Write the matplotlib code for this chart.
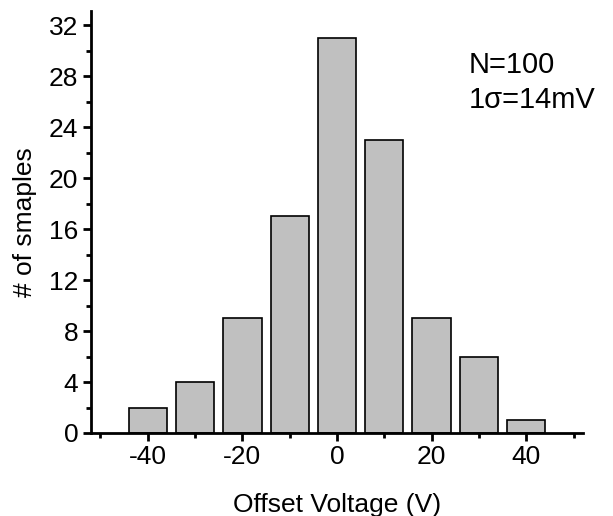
import matplotlib
matplotlib.use("Agg")
import matplotlib.pyplot as plt
from matplotlib.ticker import MultipleLocator

plt.rcParams['font.family'] = ['Liberation Sans', 'DejaVu Sans']
plt.rcParams['axes.unicode_minus'] = False

centers = [-40, -30, -20, -10, 0, 10, 20, 30, 40]
counts = [2, 4, 9, 17, 31, 23, 9, 6, 1]

W, H = 613, 516
fig = plt.figure(figsize=(W/100, H/100), dpi=100)
ax = fig.add_axes([91/W, 1-433/H, (583-91)/W, (433-11)/H])

ax.bar(centers, counts, width=8.1, color='#c0c0c0', edgecolor='black', linewidth=1.2)

ax.set_xlim(-52, 52)
ax.set_ylim(0, 33.1)
ax.xaxis.set_major_locator(MultipleLocator(20))
ax.xaxis.set_minor_locator(MultipleLocator(10))
ax.yaxis.set_major_locator(MultipleLocator(4))
ax.yaxis.set_minor_locator(MultipleLocator(2))

for s in ['top', 'right']:
    ax.spines[s].set_visible(False)
for s in ['left', 'bottom']:
    ax.spines[s].set_linewidth(2)

ax.tick_params(which='major', direction='out', length=6, width=2, labelsize=19, pad=3)
ax.tick_params(which='minor', direction='out', length=3.5, width=2)

ax.set_xlabel('Offset Voltage (V)', fontsize=19, labelpad=17)
ax.set_ylabel('# of smaples', fontsize=19, labelpad=9)

ax.text(0.767, 0.905, 'N=100\n1σ=14mV', transform=ax.transAxes, fontsize=21,
        va='top', ha='left', linespacing=1.3)

fig.savefig('out.png', dpi=100)
